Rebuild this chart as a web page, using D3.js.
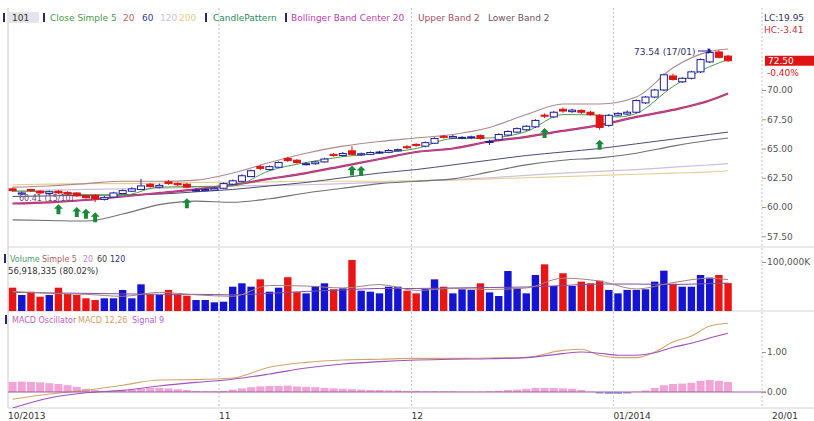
<!DOCTYPE html>
<html><head><meta charset="utf-8">
<script src="https://cdn.jsdelivr.net/npm/d3@7"></script>
<style>
body{margin:0;background:#fff;}
text{font-family:"DejaVu Sans",Verdana,sans-serif;}
</style></head><body>
<svg id="c" width="814" height="421"></svg>
<script>
// ---------- data ----------
const openP=[61.55,61.10,61.50,61.35,61.15,61.35,61.25,61.20,60.95,61.00,
60.65,60.85,61.15,61.35,61.50,61.95,61.70,62.15,62.00,61.95,
61.40,61.40,61.45,61.60,61.95,62.20,62.60,63.45,63.20,63.40,
64.15,64.00,63.65,63.70,63.85,64.50,64.40,64.80,64.45,64.50,
64.62,64.68,64.80,65.15,65.35,65.20,65.45,66.05,65.90,65.90,
65.92,66.10,65.55,65.75,66.15,66.40,66.60,66.85,67.85,67.70,
68.35,68.15,68.25,68.10,67.84,66.98,67.85,67.95,68.10,68.90,
69.40,70.00,71.20,70.70,71.00,71.55,72.40,73.25,72.90];
const highP=[61.65,61.30,61.55,61.45,61.40,61.45,61.35,61.25,61.05,61.10,
60.95,61.30,61.50,61.70,62.40,62.05,62.00,62.30,62.10,62.05,
61.60,61.60,61.70,62.10,62.35,62.80,63.20,63.60,63.55,63.90,
64.30,64.10,63.85,63.95,64.20,64.60,64.70,65.20,64.65,64.75,
64.80,64.95,65.00,65.30,65.45,65.60,65.95,66.15,66.15,66.05,
66.10,66.20,65.75,66.30,66.55,66.80,67.00,67.50,68.00,68.20,
68.50,68.40,68.35,68.20,67.95,67.95,68.10,68.25,69.20,69.50,
70.10,71.40,71.40,71.10,71.65,72.70,73.54,73.40,73.00];
const lowP=[61.30,61.00,61.30,61.10,61.10,61.10,61.00,60.85,60.70,60.41,
60.55,60.80,61.10,61.30,61.45,61.65,61.60,61.90,61.80,61.60,
61.30,61.35,61.40,61.55,61.90,62.15,62.55,63.15,63.10,63.35,
63.85,63.70,63.55,63.60,63.80,64.30,64.30,64.40,64.35,64.45,
64.55,64.60,64.75,64.95,65.15,65.10,65.40,65.85,65.85,65.80,
65.80,65.75,65.30,65.70,66.05,66.30,66.50,66.75,67.60,67.60,
68.05,68.05,67.95,67.80,66.60,66.85,67.75,67.85,68.00,68.80,
69.30,69.90,70.80,70.60,70.90,71.45,72.30,72.70,72.40];
const closeP=[61.40,61.20,61.40,61.20,61.30,61.20,61.10,60.95,60.80,60.70,
60.80,61.20,61.40,61.55,61.80,61.75,61.85,62.00,61.90,61.70,
61.45,61.50,61.60,62.00,62.24,62.67,63.10,63.30,63.45,63.80,
63.97,63.80,63.70,63.85,64.10,64.40,64.57,64.50,64.55,64.66,
64.70,64.83,64.90,65.10,65.26,65.50,65.86,65.95,66.03,65.95,
66.00,65.86,65.60,66.20,66.45,66.70,66.90,67.40,67.76,68.10,
68.20,68.28,68.10,67.90,66.80,67.84,68.00,68.10,69.10,69.40,
70.00,71.30,70.90,71.00,71.55,72.60,73.20,72.79,72.50];
// volume in millions
const volume=[47.6,32.6,39.4,29.2,32.6,47.6,34.7,32.6,25.9,22.4,
25.9,25.9,42.9,25.9,54.4,34.0,32.6,42.9,34.0,31.3,
22.4,22.4,17.7,19.0,49.6,56.5,49.6,64.6,39.4,47.6,
69.0,38.5,36.0,51.0,56.5,44.3,46.3,104.0,41.4,39.4,
36.0,49.6,49.6,41.4,36.0,45.0,64.6,49.6,36.0,44.3,
43.0,56.5,38.0,30.6,81.6,46.3,36.0,73.5,95.2,51.0,
77.0,51.0,59.9,56.5,61.9,43.0,36.0,43.0,43.0,44.3,
59.9,82.3,55.8,49.6,49.6,73.5,68.0,73.5,56.9];
// indicator lines read at sampled bars
const lineIdx=[0,4,8,12,16,20,24,28,32,36,40,44,48,52,56,60,64,68,72,76,78];
const sma20=[60.3,60.4,60.6,60.9,61.2,61.5,61.9,62.4,62.9,63.5,64.1,64.7,65.0,65.6,66.0,66.5,67.0,67.7,68.3,69.1,69.7];
const bbUpper=[61.7,61.8,62.0,62.2,62.2,62.3,62.9,63.8,64.6,65.2,65.6,65.9,66.2,66.8,67.9,68.8,68.8,69.4,71.9,73.3,73.5];
const bbLower=[58.9,58.85,58.8,59.4,60.2,60.5,60.4,60.7,61.2,61.6,62.0,62.2,62.4,63.0,63.6,64.0,64.2,64.6,65.2,65.7,65.9];
const sma60=[60.9,60.95,61.0,61.05,61.1,61.3,61.5,61.8,62.1,62.5,62.9,63.2,63.6,64.0,64.4,64.7,65.0,65.4,65.8,66.2,66.4];
const sma120=[61.4,61.45,61.5,61.55,61.6,61.7,61.8,61.85,61.9,62.0,62.1,62.2,62.35,62.5,62.7,62.9,63.05,63.2,63.4,63.6,63.7];
const sma200=[61.9,61.95,62.0,62.0,62.05,62.1,62.1,62.15,62.2,62.2,62.2,62.25,62.3,62.4,62.5,62.6,62.7,62.8,62.9,63.0,63.1];
const sma5Idx=[0,4,8,12,16,20,24,28,32,36,40,44,48,52,56,60,64,66,68,72,76,78];
const sma5=[61.35,61.3,61.05,61.0,61.7,61.75,61.8,63.1,63.8,64.3,64.6,65.0,65.85,65.9,66.45,67.9,67.85,67.7,68.0,70.3,72.0,72.6];
const vol5=[40,36,34,30,38,33,30,52,51,47,54,42,46,44,47,67,61,45,58,67,64];
const vol20=[38,37,36,35,34,34,33,36,40,43,46,46,47,48,49,52,55,55,54,56,57];
const macdIdx=[0,4,8,12,16,20,24,28,32,36,40,44,48,52,56,60,62,64,66,68,70,72,74,76,78];
const macdLine=[-0.18,-0.05,0.04,0.17,0.30,0.31,0.35,0.62,0.74,0.80,0.82,0.84,0.84,0.85,0.87,1.04,1.07,0.92,0.86,0.86,1.00,1.25,1.40,1.65,1.72];
const signalLine=[-0.40,-0.15,-0.02,0.04,0.15,0.24,0.32,0.45,0.60,0.70,0.76,0.80,0.82,0.83,0.86,0.96,1.00,0.97,0.92,0.92,0.98,1.12,1.22,1.35,1.47];
const macdOsc=[0.25,0.26,0.25,0.24,0.22,0.20,0.17,0.13,0.08,0.05,
0.03,0.02,0.04,0.06,0.08,0.10,0.10,0.09,0.07,0.05,
0.03,0.02,0.02,0.03,0.06,0.09,0.12,0.14,0.15,0.15,
0.16,0.14,0.13,0.12,0.10,0.09,0.08,0.07,0.06,0.05,
0.05,0.04,0.04,0.03,0.03,0.02,0.02,0.02,0.02,0.01,
0.01,0.01,0.02,0.03,0.05,0.06,0.08,0.10,0.10,0.10,
0.09,0.08,0.05,0.01,-0.04,-0.05,-0.05,-0.04,0.01,0.04,
0.10,0.17,0.20,0.21,0.23,0.28,0.30,0.28,0.25];
const patternIdx=[5,7,8,9,19,37,38,58,64];
const monthIdx=[0,23,44,66,83.3];
const monthLabels=["10/2013","11","12","01/2014","20/01"];
const priceTicks=[70,67.5,65,62.5,60,57.5];
const lastClose=72.50, lastChange="-0.40%";
const lowLabel="60.41 (15/10)", highLabel="73.54 (17/01)";

// ---------- drawing ----------
const svg=d3.select("#c");
const L=8,R=762;
const P={t:8,b:247}, V={t:247,b:311}, M={t:311,b:408};
const x=d3.scaleLinear().domain([0,82.2]).range([L,R]);
const cx=i=>x(i+0.5);
const y=d3.scaleLinear().domain([57.5,70]).range([236.25,90]);
const yv=d3.scaleLinear().domain([0,100]).range([311,262]);
const ym=d3.scaleLinear().domain([0,1]).range([392,352]);

const defs=svg.append("defs");
[["cp",P],["cv",V],["cm",M]].forEach(([id,p])=>{
  defs.append("clipPath").attr("id",id).append("rect").attr("x",L).attr("y",p.t).attr("width",R-L).attr("height",p.b-p.t);
});

// frame
const frame=svg.append("g");
frame.append("line").attr("x1",L).attr("x2",L).attr("y1",P.t).attr("y2",M.b).attr("stroke","#c8c8c8");
[V.t,M.t,M.b].forEach(v=>frame.append("line").attr("x1",L).attr("x2",814).attr("y1",v).attr("y2",v).attr("stroke","#d4d4d4"));
// vertical grid
monthIdx.slice(1,4).concat([82.2]).forEach(i=>{
  frame.append("line").attr("x1",x(i)).attr("x2",x(i)).attr("y1",P.t).attr("y2",M.b)
   .attr("stroke","#c4c4c4").attr("stroke-dasharray","2,2");
});

// price lines
const gp=svg.append("g").attr("clip-path","url(#cp)");
function pline(idx,vals,scale){
  const ln=d3.line().x(d=>cx(d[0])).y(d=>scale(d[1])).curve(d3.curveMonotoneX);
  return ln(idx.map((d,k)=>[d,vals[k]]));
}
function drawLine(g,idx,vals,scale,color,w){
  g.append("path").attr("d",pline(idx,vals,scale)).attr("fill","none").attr("stroke",color).attr("stroke-width",w);
}
drawLine(gp,lineIdx,sma200,y,"#e6cf94",1.2);
drawLine(gp,lineIdx,sma120,y,"#cdbfd8",1.2);
drawLine(gp,lineIdx,sma60,y,"#4a4a78",1);
drawLine(gp,lineIdx,bbLower,y,"#707070",1.1);
drawLine(gp,lineIdx,bbUpper,y,"#b08888",1.1);
drawLine(gp,lineIdx,sma20,y,"#c0304a",2.2);
drawLine(gp,lineIdx,sma20,y,"#b048b8",1);
drawLine(gp,sma5Idx,sma5,y,"#4aa04a",1);

// candles
const bw=7;
const cg=gp.append("g");
closeP.forEach((c,i)=>{
  const o=openP[i], up=c>=o;
  const col=up?"#1c1c9c":"#e01414";
  cg.append("line").attr("x1",cx(i)).attr("x2",cx(i)).attr("y1",y(highP[i])).attr("y2",y(lowP[i])).attr("stroke",col).attr("stroke-width",1);
  const top=y(Math.max(o,c)), bot=y(Math.min(o,c));
  cg.append("rect").attr("x",cx(i)-bw/2).attr("y",top).attr("width",bw).attr("height",Math.max(1,bot-top))
    .attr("fill",up?"#fff":"#e01414").attr("stroke",col).attr("stroke-width",1);
});
// candle pattern arrows
patternIdx.forEach(i=>{
  const ax=cx(i), ay=y(lowP[i])+10;
  cg.append("path").attr("d",`M${ax},${ay} l4.5,4.5 h-2.5 v5.5 h-4 v-5.5 h-2.5 z`).attr("fill","#1a8a3a");
});

// price annotations
svg.append("text").attr("x",19).attr("y",201).attr("font-size",8).attr("fill","#6a4a7a").text(lowLabel);
svg.append("text").attr("x",634).attr("y",55).attr("font-size",9).attr("fill","#333366").text(highLabel);
svg.append("path").attr("d",`M${698},51 H${cx(76)-2}`).attr("stroke","#1c1c9c").attr("stroke-width",1);
svg.append("path").attr("d",`M${cx(76)-2},48 l4,3 l-4,3 z`).attr("fill","#1c1c9c");

// price axis
function styleAxis(g){
  g.select(".domain").remove();
  g.selectAll("line").attr("stroke","#999");
  g.selectAll("text").attr("font-size",9).attr("fill","#555").attr("font-family","DejaVu Sans");
}
styleAxis(svg.append("g").attr("transform",`translate(${R},0)`)
  .call(d3.axisRight(y).tickValues(priceTicks).tickFormat(d3.format(".2f")).tickSize(4).tickPadding(1)));
// last price tag
const ly=y(lastClose);
svg.append("rect").attr("x",765).attr("y",ly-5).attr("width",49).attr("height",10).attr("fill","#e01414");
svg.append("text").attr("x",768).attr("y",ly+3.5).attr("font-size",9).attr("fill","#fff").text(d3.format(".2f")(lastClose));
svg.append("text").attr("x",767).attr("y",ly+15).attr("font-size",9).attr("fill","#e01414").text(lastChange);
svg.append("text").attr("x",764).attr("y",21).attr("font-size",9).attr("fill","#333366").text("LC:19.95");
svg.append("text").attr("x",764).attr("y",33).attr("font-size",9).attr("fill","#c83232").text("HC:-3.41");

// volume
const gv=svg.append("g").attr("clip-path","url(#cv)");
volume.forEach((v,i)=>{
  const up=closeP[i]>=openP[i];
  gv.append("rect").attr("x",cx(i)-3.7).attr("y",yv(v)).attr("width",7.4).attr("height",yv(0)-yv(v))
    .attr("fill",up?"#1414d2":"#ea1414");
});
drawLine(gv,lineIdx,vol20,yv,"#7a50a8",1);
drawLine(gv,lineIdx,vol5,yv,"#a88080",1);
styleAxis(svg.append("g").attr("transform",`translate(${R},0)`)
  .call(d3.axisRight(yv).tickValues([100]).tickFormat(()=>"100,000K").tickSize(4).tickPadding(1)));

// MACD
const gm=svg.append("g").attr("clip-path","url(#cm)");
macdOsc.forEach((v,i)=>{
  gm.append("rect").attr("x",cx(i)-4).attr("y",Math.min(ym(v),ym(0))).attr("width",8).attr("height",Math.abs(ym(v)-ym(0)))
    .attr("fill",v>=0?"#f2a4d6":"#9aa4e6");
});
drawLine(gm,macdIdx,macdLine,ym,"#d2a46a",1.1);
drawLine(gm,macdIdx,signalLine,ym,"#a050c0",1.1);
svg.append("line").attr("x1",L).attr("x2",R+4).attr("y1",ym(0)).attr("y2",ym(0)).attr("stroke","#9a5a9a").attr("stroke-width",1);
styleAxis(svg.append("g").attr("transform",`translate(${R},0)`)
  .call(d3.axisRight(ym).tickValues([1,0]).tickFormat(d3.format(".2f")).tickSize(4).tickPadding(1)));

// x labels
monthIdx.forEach((i,k)=>{
  svg.append("text").attr("x",x(i)).attr("y",419).attr("font-size",9).attr("fill","#333").text(monthLabels[k]);
});

// legends
function bar(xp,yp){svg.append("rect").attr("x",xp).attr("y",yp-8).attr("width",2).attr("height",9).attr("fill","#28286a");}
function lt(xp,yp,s,c,fs){svg.append("text").attr("x",xp).attr("y",yp).attr("font-size",fs).attr("fill",c).text(s);}
const LY=21;
bar(3,LY);
svg.append("rect").attr("x",9).attr("y",LY-9).attr("width",30).attr("height",11).attr("fill","#e4e4ea");
lt(12,LY,"101","#333","9px");
bar(43,LY);
lt(50,LY,"Close Simple 5","#4a9a4a","9px");
lt(123,LY,"20","#c06060","9px");
lt(142,LY,"60","#3a3a8a","9px");
lt(160,LY,"120","#c8c0e0","9px");
lt(179,LY,"200","#e6cc7a","9px");
bar(205,LY);
lt(213,LY,"CandlePattern","#2a8a5a","9px");
bar(285,LY);
lt(291,LY,"Bollinger Band Center 20","#c040b0","9px");
lt(418,LY,"Upper Band 2","#a05060","9px");
lt(488,LY,"Lower Band 2","#705060","9px");

const VY=262;
bar(4,VY);
lt(10,VY,"Volume","#4a9a6a","8px");
lt(42,VY,"Simple 5","#b06060","8px");
lt(83,VY,"20","#d080d0","8px");
lt(97,VY,"60","#404040","8px");
lt(110,VY,"120","#303080","8px");
lt(8,274,"56,918,335 (80.02%)","#333","8.5px");

const MY=323;
bar(5,MY);
lt(12,MY,"MACD Oscillator","#c060c0","8px");
lt(78,MY,"MACD 12,26","#d0a060","8px");
lt(132,MY,"Signal 9","#b060d0","8px");
</script>
</body></html>
